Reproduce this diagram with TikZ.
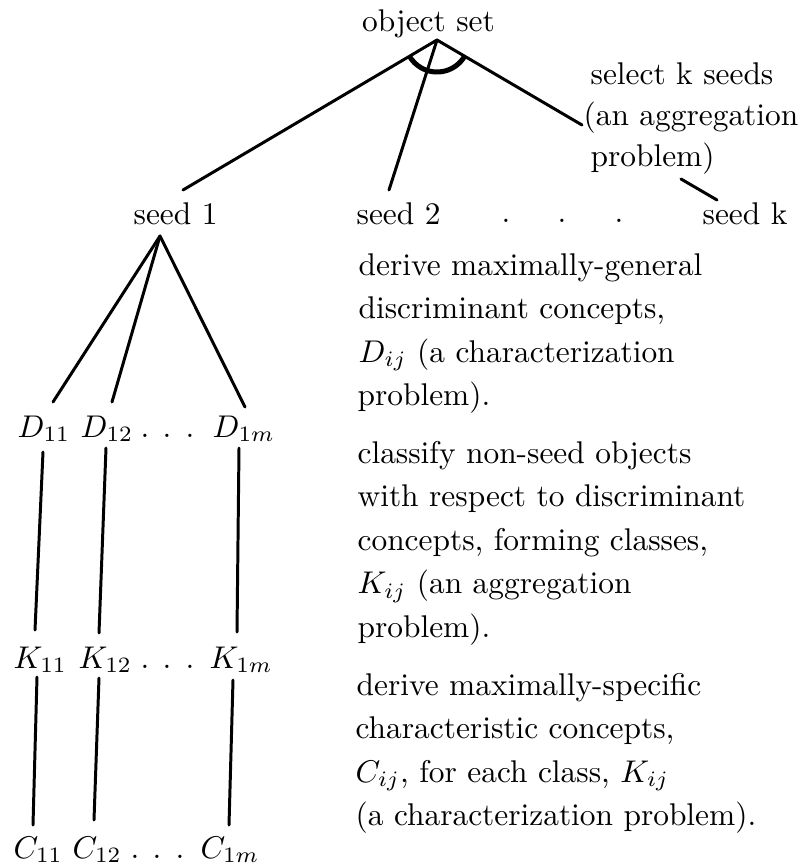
\documentclass[tikz,border=0pt]{standalone}
\begin{document}
\begin{tikzpicture}[x=0.3185pt,y=-0.3185pt,
  txt/.style={inner sep=0pt, anchor=base west},
  dotnode/.style={inner sep=0pt, anchor=base},
  ln/.style={line width=0.95pt, line cap=round},
  arcline/.style={line width=1.6pt}]
\useasboundingbox (0,0) rectangle (809,865);

% top
\node[dotnode] (obj) at (428.5,31) {object set};
\coordinate (apex) at (437,40);
\node[txt] (sel1) at (590,84) {select k seeds};
\node[txt] (sel2) at (583,125) {(an aggregation};
\node[txt] (sel3) at (590,166) {problem)};

% seed row
\node[txt] (seed1) at (133,224) {seed 1};
\node[txt] (seed2) at (356,224) {seed 2};
\node[dotnode] (sdA) at (506,222) {.};
\node[dotnode] (sdB) at (562,222) {.};
\node[dotnode] (sdC) at (619,222) {.};
\node[txt] (seedk) at (702,224) {seed k};

\coordinate (s1top) at (183,190);
\coordinate (s2top) at (389,190);
\coordinate (selend) at (582,125);
\coordinate (dk1) at (681,179);
\coordinate (dk2) at (717,200);

\draw[ln] (apex) -- (s1top);
\draw[ln] (apex) -- (s2top);
\draw[ln] (apex) -- (selend);
\draw[arcline] ([shift={(30.4:32)}]apex) arc[start angle=30.4, end angle=149.4, radius=32];
\draw[ln] (dk1) -- (dk2);

% D row
\node[txt] (D11) at (17,437) {$D_{11}$};
\node[txt] (D12) at (80,437) {$D_{12}$};
\node[dotnode] (ddA) at (145,437) {.};
\node[dotnode] (ddB) at (167,437) {.};
\node[dotnode] (ddC) at (190,437) {.};
\node[txt] (D1m) at (212,437) {$D_{1m}$};

% K row
\node[txt] (K11) at (13,668) {$K_{11}$};
\node[txt] (K12) at (78,668) {$K_{12}$};
\node[dotnode] (kdA) at (145,668) {.};
\node[dotnode] (kdB) at (167,668) {.};
\node[dotnode] (kdC) at (190,668) {.};
\node[txt] (K1m) at (209,668) {$K_{1m}$};

% C row
\node[txt] (C11) at (13,858) {$C_{11}$};
\node[txt] (C12) at (72,858) {$C_{12}$};
\node[dotnode] (cdA) at (135,858) {.};
\node[dotnode] (cdB) at (157,858) {.};
\node[dotnode] (cdC) at (180,858) {.};
\node[txt] (C1m) at (200,858) {$C_{1m}$};

% fan from seed 1
\coordinate (s1apex) at (160,236);
\coordinate (d11t) at (53,402);
\coordinate (d12t) at (112,402);
\coordinate (d1mt) at (245,407);
\draw[ln] (s1apex) -- (d11t);
\draw[ln] (s1apex) -- (d12t);
\draw[ln] (s1apex) -- (d1mt);

% D to K
\coordinate (d11b) at (43,452);  \coordinate (k11t) at (35,630);
\coordinate (d12b) at (106,448); \coordinate (k12t) at (99,633);
\coordinate (d1mb) at (239,448); \coordinate (k1mt) at (237,632);
\draw[ln] (d11b) -- (k11t);
\draw[ln] (d12b) -- (k12t);
\draw[ln] (d1mb) -- (k1mt);

% K to C
\coordinate (k11b) at (37,677);  \coordinate (c11t) at (33,825);
\coordinate (k12b) at (99,678);  \coordinate (c12t) at (94,820);
\coordinate (k1mb) at (233,680); \coordinate (c1mt) at (229,825);
\draw[ln] (k11b) -- (c11t);
\draw[ln] (k12b) -- (c12t);
\draw[ln] (k1mb) -- (c1mt);

% right column, block 1
\node[txt] (a1) at (358,275) {derive maximally-general};
\node[txt] (a2) at (358,318.5) {discriminant concepts,};
\node[txt] (a3) at (358,362) {$D_{ij}$ (a characterization};
\node[txt] (a4) at (357,405.5) {problem).};

% block 2
\node[txt] (b1) at (357,463) {classify non-seed objects};
\node[txt] (b2) at (357,506.5) {with respect to discriminant};
\node[txt] (b3) at (357,550) {concepts, forming classes,};
\node[txt] (b4) at (357,593.5) {$K_{ij}$ (an aggregation};
\node[txt] (b5) at (357,637) {problem).};

% block 3
\node[txt] (c1) at (356,695) {derive maximally-specific};
\node[txt] (c2) at (355,738.5) {characteristic concepts,};
\node[txt] (c3) at (355,782) {$C_{ij}$, for each class, $K_{ij}$};
\node[txt] (c4) at (355,825.5) {(a characterization problem).};
\end{tikzpicture}
\end{document}
